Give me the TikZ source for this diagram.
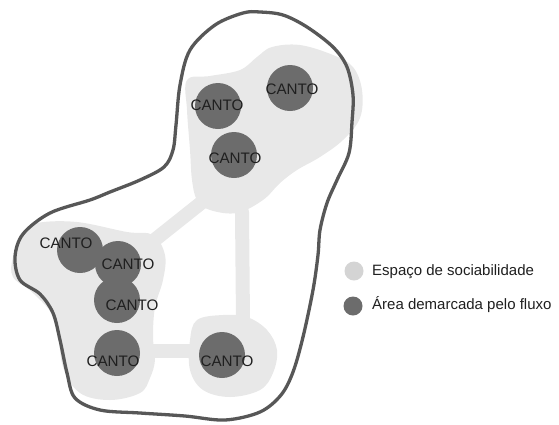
\documentclass[tikz,border=0pt]{standalone}
\usepackage{fontspec}
\setmainfont{Liberation Sans}
\definecolor{lightblob}{HTML}{E8E8E8}
\definecolor{legendlight}{HTML}{D4D4D4}
\definecolor{darkspot}{HTML}{6C6C6C}
\definecolor{outline}{HTML}{575757}
\definecolor{txt}{HTML}{1F1F1F}
\tikzset{
  blob/.style={fill=lightblob, draw=none},
  corridor/.style={draw=lightblob, line width=14pt, line cap=round},
  spot/.style={circle, fill=darkspot, minimum size=46pt, inner sep=0pt},
  canto/.style={text=txt, font=\fontsize{15.2}{15.2}\selectfont, inner sep=0pt},
  legdot/.style={circle, minimum size=19pt, inner sep=0pt},
  legtext/.style={text=txt, font=\fontsize{15}{15}\selectfont, anchor=west, inner sep=0pt},
  boundary/.style={draw=outline, line width=3.3pt}
}
\begin{document}
\begin{tikzpicture}[x=1pt,y=-1pt]
\useasboundingbox (0,0) rectangle (559,424);
% light blobs (espaco de sociabilidade)
\fill[blob] plot[smooth cycle, tension=0.6] coordinates {
 (187,80) (210,76) (240,70) (257,57) (272,47) (300,45) (333,55) (353,67)
 (362,90) (360,118) (343,140) (320,157) (297,170) (280,183) (263,200)
 (237,213) (210,210) (197,200) (192,180) (190,150) (187,110)};
\fill[blob] plot[smooth cycle, tension=0.6] coordinates {
 (37,223) (77,222) (127,232) (153,235) (165,255) (163,280) (155,307)
 (153,337) (155,360) (150,378) (140,393) (110,400) (80,393) (63,367)
 (55,320) (33,293) (13,277) (13,257) (23,233)};
\fill[blob] plot[smooth cycle, tension=0.6] coordinates {
 (197,320) (223,315) (247,317) (267,330) (277,350) (273,373) (260,390)
 (230,397) (203,390) (190,370) (190,340)};
\coordinate (d1) at (201,203);
\coordinate (d2) at (152,242);
\coordinate (v1) at (242,212);
\coordinate (v2) at (243,322);
\coordinate (h1) at (150,351);
\coordinate (h2) at (198,351);
\draw[corridor] (d1) -- (d2);
\draw[corridor] (v1) -- (v2);
\draw[corridor] (h1) -- (h2);
% outer boundary
\draw[boundary] plot[smooth cycle, tension=0.55] coordinates {
 (243,13) (260,12) (283,15) (307,27) (333,47) (347,67) (353,95) (352,122)
 (349,153) (337,180) (327,203) (320,230) (318,255) (313,290) (303,337)
 (293,372) (281,395) (260,412) (225,420) (185,416) (140,413) (100,410)
 (75,398) (67,373) (60,340) (53,313) (40,294) (20,280) (15,257) (23,234)
 (50,213) (90,200) (110,192) (140,180) (164,167) (173,150) (176,125)
 (180,85) (190,50) (215,25)};
% dark spots (area demarcada pelo fluxo)
\node[spot] (s1) at (218,106) {};
\node[spot] (s2) at (290,88) {};
\node[spot] (s3) at (234,155) {};
\node[spot] (s4) at (80,250) {};
\node[spot] (s5) at (118,264) {};
\node[spot] (s6) at (117,300) {};
\node[spot] (s7) at (117,353) {};
\node[spot] (s8) at (222,355) {};
\node[canto] (t1) at (217,105) {CANTO};
\node[canto] (t2) at (292,89) {CANTO};
\node[canto] (t3) at (235,158) {CANTO};
\node[canto] (t4) at (66,243) {CANTO};
\node[canto] (t5) at (128,264) {CANTO};
\node[canto] (t6) at (132,305) {CANTO};
\node[canto] (t7) at (113,361) {CANTO};
\node[canto] (t8) at (227,361) {CANTO};
% legend
\node[legdot, fill=legendlight] (k1) at (354,271) {};
\node[legdot, fill=darkspot] (k2) at (353,306) {};
\node[legtext] (e1) at (372,272) {Espaço de sociabilidade};
\node[legtext] (e2) at (372,305) {Área demarcada pelo fluxo};
\end{tikzpicture}
\end{document}
